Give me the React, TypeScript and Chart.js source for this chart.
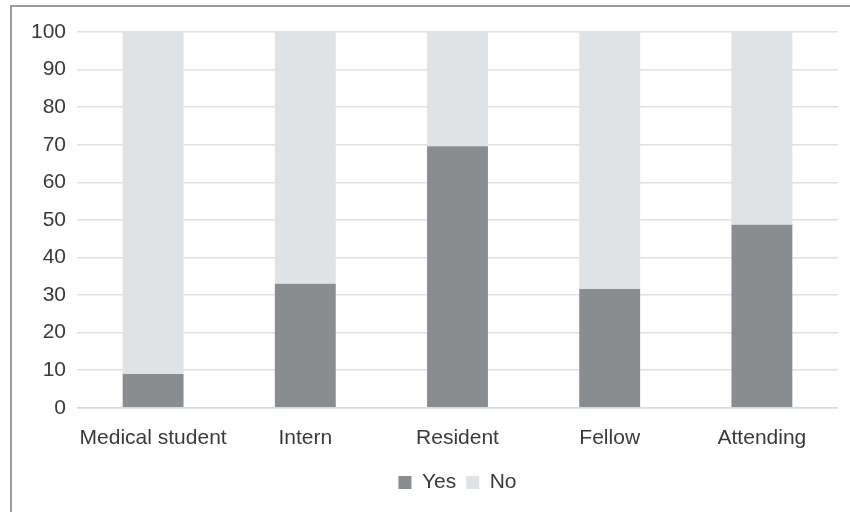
import React, { useEffect, useRef } from "react";
import { Chart, registerables } from "chart.js";

Chart.register(...registerables);

const categories = ["Medical student", "Intern", "Resident", "Fellow", "Attending"];
const yesValues = [9.0, 33.0, 69.6, 31.6, 48.7];
const noValues = [91.0, 67.0, 30.4, 68.4, 51.3];
const yTicks = [0, 10, 20, 30, 40, 50, 60, 70, 80, 90, 100];

const FONT = "'Liberation Sans', Arial, sans-serif";
const TEXT = "#3a3a3a";

const zeroLine = {
  id: "zeroLine",
  afterDatasetsDraw(chart: any) {
    const { ctx, chartArea, scales } = chart;
    const y = scales.y.getPixelForValue(0);
    ctx.save();
    ctx.strokeStyle = "#d9d9d9";
    ctx.lineWidth = 1.5;
    ctx.beginPath();
    ctx.moveTo(chartArea.left, y);
    ctx.lineTo(chartArea.right, y);
    ctx.stroke();
    ctx.restore();
  },
};

export default function App() {
  const ref = useRef<HTMLCanvasElement | null>(null);
  useEffect(() => {
    if (!ref.current) return;
    const chart = new Chart(ref.current, {
      type: "bar",
      data: {
        labels: categories,
        datasets: [
          { label: "Yes", data: yesValues, backgroundColor: "#8b8c90", borderWidth: 0 },
          { label: "No", data: noValues, backgroundColor: "#e1e2e4", borderWidth: 0 },
        ],
      },
      plugins: [zeroLine],
      options: {
        animation: false,
        responsive: false,
        maintainAspectRatio: false,
        devicePixelRatio: 1,
        layout: { padding: { top: 32, right: 12, left: 0, bottom: 9 } },
        datasets: { bar: { categoryPercentage: 1, barPercentage: 0.4 } },
        plugins: {
          tooltip: { enabled: false },
          legend: {
            position: "bottom",
            fullSize: false,
            labels: {
              boxWidth: 13,
              boxHeight: 13,
              padding: 10,
              color: TEXT,
              font: { family: FONT, size: 21 },
            },
          },
        },
        scales: {
          x: {
            stacked: true,
            grid: { display: false, drawTicks: false },
            border: { display: false },
            ticks: { color: TEXT, padding: 18, font: { family: FONT, size: 21 }, maxRotation: 0 },
            afterFit: (s: any) => {
              s.height -= 7;
            },
          },
          y: {
            stacked: true,
            min: 0,
            max: 100,
            afterBuildTicks: (s: any) => {
              s.ticks = yTicks.map((v) => ({ value: v }));
            },
            grid: { color: "#e0e0e0", lineWidth: 1.5, drawTicks: false },
            border: { display: false },
            ticks: { color: TEXT, padding: 11, font: { family: FONT, size: 21 } },
            afterFit: (s: any) => {
              s.width = 77;
            },
          },
        },
      },
    });
    return () => chart.destroy();
  }, []);
  return (
    <div style={{ position: "absolute", left: 0, top: 0, width: 850, height: 512, background: "#fff", overflow: "hidden" }}>
      <div
        style={{
          position: "absolute",
          left: 10,
          top: 5,
          width: 860,
          height: 520,
          borderTop: "2px solid #9a9a9a",
          borderLeft: "2px solid #9a9a9a",
        }}
      />
      <canvas ref={ref} width={850} height={512} style={{ position: "absolute", left: 0, top: 0 }} />
    </div>
  );
}
